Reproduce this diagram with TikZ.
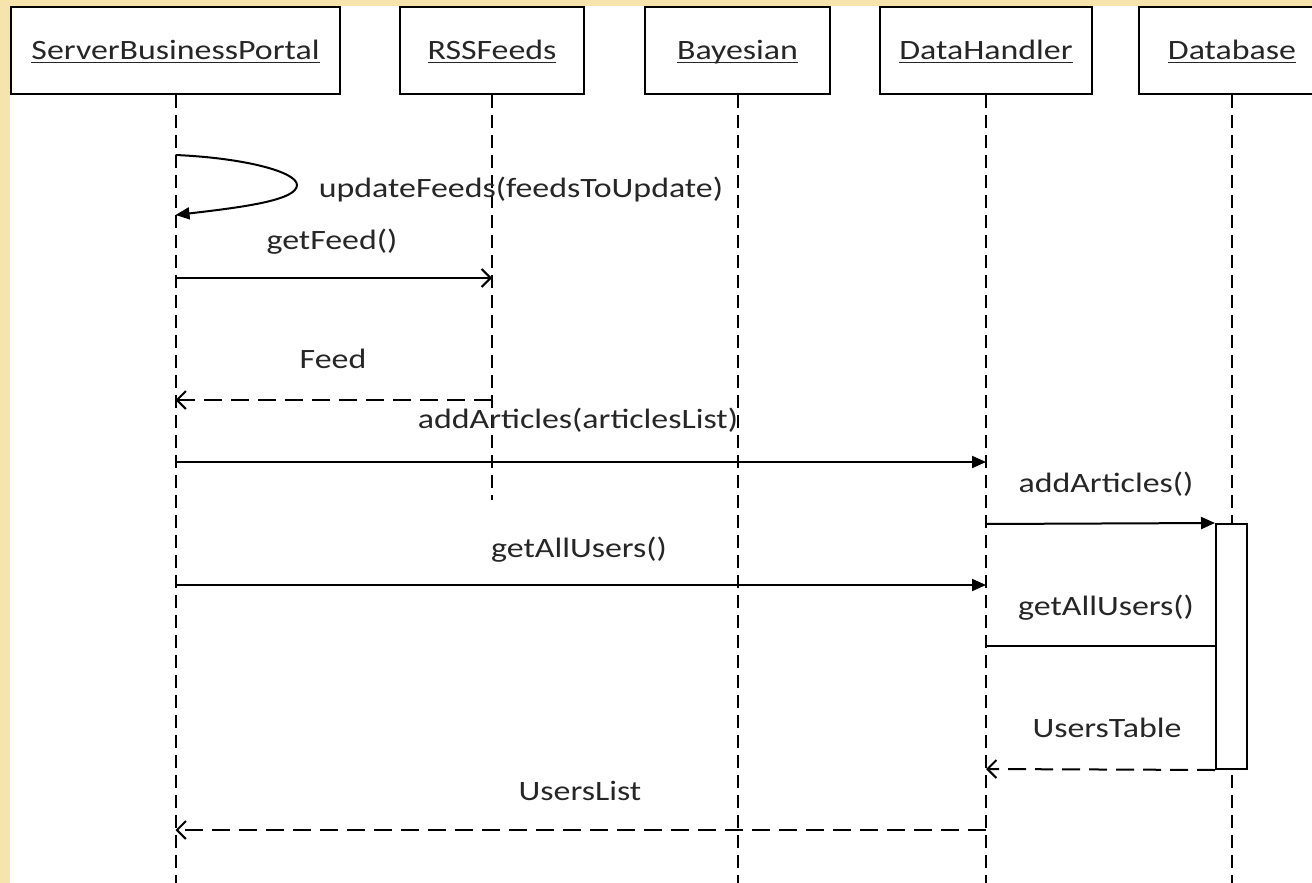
\documentclass[tikz,border=0pt]{standalone}
\usepackage{fontspec}
\setmainfont[FakeStretch=1.21]{Carlito}
\usetikzlibrary{arrows.meta}
\definecolor{slidebg}{HTML}{F7E4AC}
\definecolor{ink}{HTML}{262626}
\newcommand\ulname[1]{\setbox0\hbox{#1}\rlap{\rule[-4pt]{\wd0}{1.5pt}}\box0}
\begin{document}
\begin{tikzpicture}[x=1pt,y=-1pt,
  every node/.style={font=\fontsize{28}{32}\selectfont, text=ink},
  actor/.style={draw, line width=2pt, fill=white, text height=18pt, text depth=0pt, inner sep=0pt},
  life/.style={line width=2pt, dash pattern=on 13pt off 7pt},
  msg/.style={line width=2pt, -{Triangle[length=14pt,width=12pt]}},
  call/.style={line width=2pt, -{Straight Barb[length=9pt,width=18pt]}},
  ret/.style={line width=2pt, dash pattern=on 18pt off 9pt, -{Straight Barb[length=9pt,width=18pt]}},
  lbl/.style={anchor=base, inner sep=0pt}]
\useasboundingbox (0,0) rectangle (1312,883);
\fill[slidebg] (0,0) rectangle (1312,883);
\fill[white] (10,6) rectangle (1312,883);

% actors
\node[actor, minimum width=329pt, minimum height=87pt] (sbp) at (175.5,50.5) {\ulname{ServerBusinessPortal}};
\node[actor, minimum width=184pt, minimum height=87pt] (rss) at (492,50.5) {\ulname{RSSFeeds}};
\node[actor, minimum width=185pt, minimum height=87pt] (bay) at (737.5,50.5) {\ulname{Bayesian}};
\node[actor, minimum width=212pt, minimum height=87pt] (dh) at (986,50.5) {\ulname{DataHandler}};
\node[actor, minimum width=186pt, minimum height=87pt] (db) at (1232,50.5) {\ulname{Database}};

% lifeline ends
\coordinate (sbpend) at (175.5,883);
\coordinate (rssend) at (492,500);
\coordinate (bayend) at (737.5,883);
\coordinate (dhend) at (986,883);
\coordinate (dbend) at (1232,883);

\draw[life] (sbp.south) -- (sbpend);
\draw[life] (rss.south) -- (rssend);
\draw[life] (bay.south) -- (bayend);
\draw[life] (dh.south) -- (dhend);
\draw[life] (db.south) -- (dbend);

% activation box
\node[draw, fill=white, line width=2pt, minimum width=31pt, minimum height=245pt, inner sep=0pt] (act) at (1231.5,646.5) {};

% message end points
\coordinate (s1) at (175.5,155);
\coordinate (s2) at (175.5,215);
\coordinate (g1) at (175.5,278);
\coordinate (g2) at (492,278);
\coordinate (f1) at (492,400);
\coordinate (f2) at (175.5,400);
\coordinate (a1) at (175.5,462);
\coordinate (a2) at (986,462);
\coordinate (b1) at (986,524);
\coordinate (u1) at (175.5,585);
\coordinate (u2) at (986,585);
\coordinate (v1) at (986,646);
\coordinate (v2) at (act.west |- v1);
\coordinate (t2) at (986,769);
\coordinate (l1) at (986,830);
\coordinate (l2) at (175.5,830);

% messages
\draw[msg] (s1) .. controls (245,158) and (297,172) .. (297,185) .. controls (297,200) and (245,207) .. (s2);
\draw[call] (g1) -- (g2);
\draw[ret] (f1) -- (f2);
\draw[msg] (a1) -- (a2);
\draw[msg] (b1) -- (act.north west);
\draw[msg] (u1) -- (u2);
\draw[line width=2pt] (v1) -- (v2);
\draw[ret] (act.south west) -- (t2);
\draw[ret] (l1) -- (l2);

% labels
\node[lbl] (lupd) at (521,197) {updateFeeds(feedsToUpdate)};
\node[lbl] (lgf) at (332,249) {getFeed()};
\node[lbl] (lfeed) at (333,368) {Feed};
\node[lbl] (laa) at (578,428) {addArticles(articlesList)};
\node[lbl] (laa2) at (1106,492) {addArticles()};
\node[lbl] (lgu) at (579,557) {getAllUsers()};
\node[lbl] (lgu2) at (1106,615) {getAllUsers()};
\node[lbl] (lut) at (1107,737) {UsersTable};
\node[lbl] (lul) at (580,800) {UsersList};
\end{tikzpicture}
\end{document}
